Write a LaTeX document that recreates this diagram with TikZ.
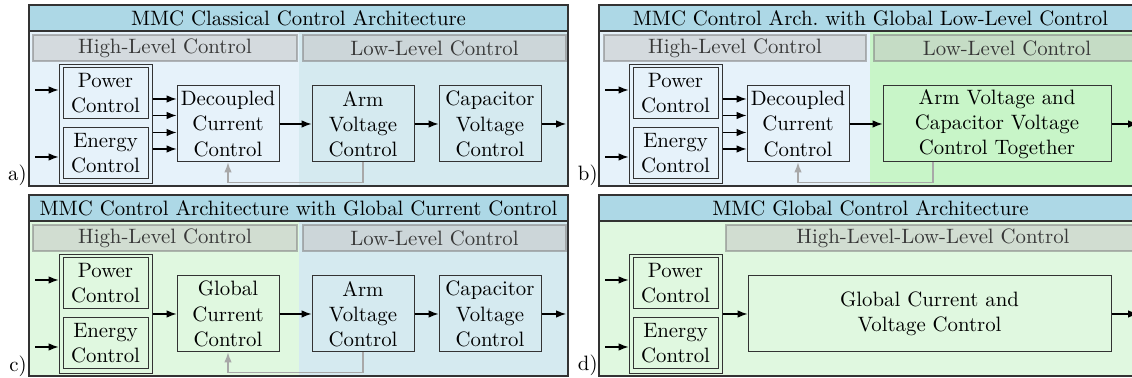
\documentclass[tikz,border=0pt]{standalone}
\usetikzlibrary{arrows.meta}
\definecolor{titlec}{HTML}{ADD8E6}
\definecolor{bluehi}{HTML}{E6F2FA}
\definecolor{bluelo}{HTML}{D5EAF0}
\definecolor{greenhi}{HTML}{E0F8E0}
\definecolor{greenlo}{HTML}{C8F5C8}
\definecolor{hdrfill}{HTML}{C4C4C4}
\definecolor{hdrtext}{HTML}{383838}
\definecolor{fbc}{HTML}{A8A8A8}
\definecolor{linec}{HTML}{333333}
\tikzset{
  every node/.style={font=\fontsize{10.4}{12.6}\selectfont},
  titlebar/.style={draw=linec, line width=0.7pt, fill=titlec, inner sep=0pt, minimum height=13pt},
  hdr/.style={preaction={fill=hdrfill, fill opacity=0.5}, draw=gray, draw opacity=0.55, line width=1.1pt, text=hdrtext, inner sep=0pt, minimum height=13pt},
  blk/.style={draw=linec, line width=0.5pt, align=center, inner sep=1pt},
  arr/.style={draw=black, line width=0.55pt, -{Latex[length=5pt,width=3.8pt]}},
  fb/.style={draw=fbc, line width=0.55pt, -{Latex[length=5pt,width=3.8pt]}},
  frm/.style={draw=linec, line width=0.6pt},
  lbl/.style={anchor=east, inner sep=0pt},
}
\newcommand\PEblock[1]{%
  \node[blk, minimum width=42.5pt, minimum height=25.5pt] (#1pw) at (105.5,93.5) {Power\\Control};
  \node[blk, minimum width=42.5pt, minimum height=25.5pt] (#1en) at (105.5,153.5) {Energy\\Control};
  \node[blk, minimum width=46.5pt, minimum height=59.5pt] (#1pe) at (105.5,124) {};
  \coordinate (#1i1) at (35,90);
  \coordinate (#1i2) at (35,157);
  \draw[arr] (#1i1) -- (#1i1 -| #1pe.west);
  \draw[arr] (#1i2) -- (#1i2 -| #1pe.west);
}
\begin{document}
\begin{tikzpicture}[x=0.5pt,y=-0.5pt]
\useasboundingbox (0,0) rectangle (1132,378);
\clip (0,0) rectangle (1132,378);
% ---------------- panel a
\begin{scope}
  \fill[bluehi] (29,31) rectangle (299,186);
  \fill[bluelo] (299,31) rectangle (568,186);
  \draw[frm] (29,5) rectangle (568,186);
  \node[titlebar, minimum width=269.5pt] (a-t) at (298.5,18) {MMC Classical Control Architecture};
  \node[hdr, minimum width=132pt] (a-hl) at (165,48) {High-Level Control};
  \node[hdr, minimum width=131.5pt] (a-ll) at (434.5,48) {Low-Level Control};
  \PEblock{a-}
  \node[blk, minimum width=51pt, minimum height=38pt] (a-dec) at (228,124) {Decoupled\\Current\\Control};
  \node[blk, minimum width=51pt, minimum height=38pt] (a-arm) at (363,124) {Arm\\Voltage\\Control};
  \node[blk, minimum width=51pt, minimum height=38pt] (a-cap) at (490,124) {Capacitor\\Voltage\\Control};
  \coordinate (a-out) at (566,124);
  \foreach \s in {12.5,4.25,-4.25,-12.5}
    \draw[arr] ([yshift=\s pt]a-pe.east) -- ([yshift=\s pt]a-dec.west);
  \draw[arr] (a-dec) -- (a-arm);
  \draw[arr] (a-arm) -- (a-cap);
  \draw[arr] (a-cap) -- (a-out);
  \draw[fb] (a-arm.south) -- ++(0,20) -| (a-dec.south);
  \node[lbl] (a-lab) at (27,175) {a)};
\end{scope}
% ---------------- panel b
\begin{scope}[shift={(570,0)}]
  \fill[bluehi] (29,31) rectangle (300,186);
  \fill[greenlo] (300,31) rectangle (572,186);
  \draw[frm] (29,5) rectangle (572,186);
  \node[titlebar, minimum width=271.5pt] (b-t) at (300.5,18) {MMC Control Arch.\ with Global Low-Level Control};
  \node[hdr, minimum width=131pt] (b-hl) at (165,48) {High-Level Control};
  \node[hdr, minimum width=133pt] (b-ll) at (437,48) {Low-Level Control};
  \PEblock{b-}
  \node[blk, minimum width=51pt, minimum height=38pt] (b-dec) at (228,124) {Decoupled\\Current\\Control};
  \node[blk, minimum width=114pt, minimum height=38pt] (b-tog) at (427,124) {Arm Voltage and\\Capacitor Voltage\\Control Together};
  \coordinate (b-out) at (568,124);
  \foreach \s in {12.5,4.25,-4.25,-12.5}
    \draw[arr] ([yshift=\s pt]b-pe.east) -- ([yshift=\s pt]b-dec.west);
  \draw[arr] (b-dec) -- (b-tog);
  \draw[arr] (b-tog) -- (b-out);
  \draw[fb] ([xshift=-32pt]b-tog.south) -- ++(0,20) -| (b-dec.south);
  \node[lbl] (b-lab) at (28,175) {b)};
\end{scope}
% ---------------- panel c
\begin{scope}[shift={(0,190)}]
  \fill[greenhi] (29,31) rectangle (299,186);
  \fill[bluelo] (299,31) rectangle (568,186);
  \draw[frm] (29,5) rectangle (568,186);
  \node[titlebar, minimum width=269.5pt] (c-t) at (298.5,18) {MMC Control Architecture with Global Current Control};
  \node[hdr, minimum width=132pt] (c-hl) at (165,48) {High-Level Control};
  \node[hdr, minimum width=131.5pt] (c-ll) at (434.5,48) {Low-Level Control};
  \PEblock{c-}
  \node[blk, minimum width=51pt, minimum height=38pt] (c-gcc) at (228,124) {Global\\Current\\Control};
  \node[blk, minimum width=51pt, minimum height=38pt] (c-arm) at (363,124) {Arm\\Voltage\\Control};
  \node[blk, minimum width=51pt, minimum height=38pt] (c-cap) at (490,124) {Capacitor\\Voltage\\Control};
  \coordinate (c-out) at (566,124);
  \draw[arr] (c-pe) -- (c-gcc);
  \draw[arr] (c-gcc) -- (c-arm);
  \draw[arr] (c-arm) -- (c-cap);
  \draw[arr] (c-cap) -- (c-out);
  \draw[fb] (c-arm.south) -- ++(0,20) -| (c-gcc.south);
  \node[lbl] (c-lab) at (27,176) {c)};
\end{scope}
% ---------------- panel d
\begin{scope}[shift={(570,190)}]
  \fill[greenhi] (29,31) rectangle (572,186);
  \draw[frm] (29,5) rectangle (572,186);
  \node[titlebar, minimum width=271.5pt] (d-t) at (300.5,18) {MMC Global Control Architecture};
  \node[hdr, minimum width=207pt] (d-hl) at (363,48) {High-Level-Low-Level Control};
  \PEblock{d-}
  \node[blk, minimum width=181.5pt, minimum height=38pt] (d-gcv) at (359.5,124) {Global Current and\\Voltage Control};
  \coordinate (d-out) at (568,124);
  \draw[arr] (d-pe) -- (d-gcv);
  \draw[arr] (d-gcv) -- (d-out);
  \node[lbl] (d-lab) at (28,175) {d)};
\end{scope}
\end{tikzpicture}
\end{document}
